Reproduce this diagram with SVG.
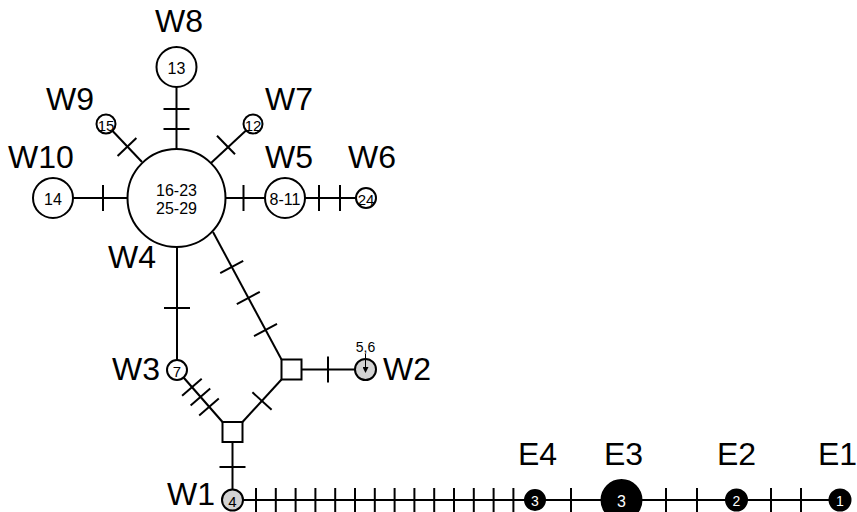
<svg xmlns="http://www.w3.org/2000/svg" width="857" height="512" viewBox="0 0 857 512">
<defs>
<style>
.e{stroke:#000;stroke-width:2;fill:none}
.t{stroke:#000;stroke-width:2}
.n{fill:#fff;stroke:#000;stroke-width:2}
.g{fill:#d3d3d3;stroke:#000;stroke-width:2}
.b{fill:#000;stroke:#000;stroke-width:2}
.lab{font-family:"Liberation Sans",Arial,sans-serif;font-size:32px;fill:#000}
.num{font-family:"Liberation Sans",Arial,sans-serif;fill:#000;text-anchor:middle;dominant-baseline:central}
.wn{font-family:"Liberation Sans",Arial,sans-serif;fill:#fff;text-anchor:middle;dominant-baseline:central}
</style>
<marker id="ah" markerWidth="6" markerHeight="6" refX="5" refY="3" orient="auto" markerUnits="userSpaceOnUse">
<path d="M0,0 L6,3 L0,6 z" fill="#000"/>
</marker>
</defs>
<rect width="857" height="512" fill="#fff"/>
<g id="connectors">
<line class="e" x1="176.5" y1="87" x2="176.5" y2="149"/>
<line class="t" x1="163.5" y1="109" x2="189.5" y2="109"/>
<line class="t" x1="163.5" y1="129" x2="189.5" y2="129"/>
<line class="e" x1="106" y1="124" x2="142" y2="162"/>
<line class="t" x1="117.6" y1="156" x2="136.4" y2="138"/>
<line class="e" x1="253" y1="124" x2="211" y2="163"/>
<line class="t" x1="217" y1="135.7" x2="235" y2="154.3"/>
<line class="e" x1="53" y1="198" x2="127" y2="198"/>
<line class="t" x1="103" y1="185" x2="103" y2="211"/>
<line class="e" x1="226" y1="198" x2="265" y2="198"/>
<line class="t" x1="243.5" y1="185" x2="243.5" y2="211"/>
<line class="e" x1="305" y1="198" x2="356" y2="198"/>
<line class="t" x1="319" y1="185" x2="319" y2="211"/>
<line class="t" x1="340" y1="185" x2="340" y2="211"/>
<line class="e" x1="177" y1="247" x2="177" y2="360"/>
<line class="t" x1="164" y1="308" x2="190" y2="308"/>
<line class="e" x1="213" y1="232" x2="281.5" y2="359.5"/>
<line class="t" x1="220.2" y1="273.1" x2="243.2" y2="260.9"/>
<line class="t" x1="236.8" y1="304.1" x2="259.8" y2="291.9"/>
<line class="t" x1="254" y1="336.1" x2="277" y2="323.9"/>
<line class="e" x1="177" y1="370" x2="222.5" y2="422"/>
<line class="t" x1="182.1" y1="395.7" x2="201.7" y2="378.7"/>
<line class="t" x1="190.6" y1="405.5" x2="210.2" y2="388.5"/>
<line class="t" x1="199.2" y1="415.4" x2="218.8" y2="398.4"/>
<line class="e" x1="242.5" y1="422" x2="281.5" y2="379.5"/>
<line class="t" x1="252.4" y1="392.3" x2="271.6" y2="409.7"/>
<line class="e" x1="301.5" y1="369.5" x2="355" y2="369.5"/>
<line class="t" x1="328" y1="356.5" x2="328" y2="382.5"/>
<line class="e" x1="232.5" y1="442" x2="232.5" y2="489"/>
<line class="t" x1="219.5" y1="467" x2="245.5" y2="467"/>
<line class="e" x1="243" y1="500" x2="840" y2="500"/>
<g class="t">
<line x1="256" y1="488" x2="256" y2="512"/>
<line x1="275.8" y1="488" x2="275.8" y2="512"/>
<line x1="295.6" y1="488" x2="295.6" y2="512"/>
<line x1="315.4" y1="488" x2="315.4" y2="512"/>
<line x1="335.2" y1="488" x2="335.2" y2="512"/>
<line x1="355" y1="488" x2="355" y2="512"/>
<line x1="374.8" y1="488" x2="374.8" y2="512"/>
<line x1="394.6" y1="488" x2="394.6" y2="512"/>
<line x1="414.4" y1="488" x2="414.4" y2="512"/>
<line x1="434.2" y1="488" x2="434.2" y2="512"/>
<line x1="454" y1="488" x2="454" y2="512"/>
<line x1="473.8" y1="488" x2="473.8" y2="512"/>
<line x1="493.6" y1="488" x2="493.6" y2="512"/>
<line x1="513.4" y1="488" x2="513.4" y2="512"/>
<line x1="571" y1="488" x2="571" y2="512"/>
<line x1="666" y1="488" x2="666" y2="512"/>
<line x1="697" y1="488" x2="697" y2="512"/>
<line x1="771" y1="488" x2="771" y2="512"/>
<line x1="801" y1="488" x2="801" y2="512"/>
</g>
</g>
<g id="W4"><circle class="n" cx="176.5" cy="198" r="49"/><text class="num" x="176.5" y="190" font-size="16">16-23</text><text class="num" x="176.5" y="208" font-size="16">25-29</text><text class="lab" x="108" y="268">W4</text></g>
<g id="W8"><circle class="n" cx="176.5" cy="67" r="20"/><text class="num" x="176.5" y="68" font-size="16">13</text><text class="lab" x="155" y="32">W8</text></g>
<g id="W9"><circle class="n" cx="106" cy="124" r="9.5"/><text class="num" x="106" y="125" font-size="15">15</text><text class="lab" x="46" y="110">W9</text></g>
<g id="W7"><circle class="n" cx="253" cy="124" r="9.5"/><text class="num" x="253" y="125" font-size="15">12</text><text class="lab" x="265" y="110">W7</text></g>
<g id="W10"><circle class="n" cx="53" cy="198" r="20"/><text class="num" x="53" y="199" font-size="16">14</text><text class="lab" x="8" y="168">W10</text></g>
<g id="W5"><circle class="n" cx="285" cy="198" r="20"/><text class="num" x="285" y="199" font-size="16">8-11</text><text class="lab" x="265" y="168">W5</text></g>
<g id="W6"><circle class="n" cx="366" cy="198" r="10"/><text class="num" x="366" y="199" font-size="15">24</text><text class="lab" x="348" y="168">W6</text></g>
<g id="W3"><circle class="n" cx="177" cy="370" r="10"/><text class="num" x="177" y="371" font-size="15">7</text><text class="lab" x="112" y="380">W3</text></g>
<g id="mv1"><rect class="n" x="281.5" y="359.5" width="20" height="20"/></g>
<g id="mv2"><rect class="n" x="222.5" y="422" width="20" height="20"/></g>
<g id="W2"><circle class="g" cx="365.5" cy="369.5" r="10.5"/><text class="num" x="365.5" y="346.5" font-size="14">5,6</text><line x1="365.5" y1="354" x2="365.5" y2="372" stroke="#000" stroke-width="1" marker-end="url(#ah)"/><text class="lab" x="383" y="380">W2</text></g>
<g id="W1"><circle class="g" cx="232.5" cy="500" r="10.5"/><text class="num" x="232.5" y="501" font-size="15">4</text><text class="lab" x="167" y="505">W1</text></g>
<g id="E4"><circle class="b" cx="535" cy="500" r="10"/><text class="wn" x="535" y="501" font-size="14">3</text><text class="lab" x="518" y="465">E4</text></g>
<g id="E3"><circle class="b" cx="621.5" cy="500" r="20"/><text class="wn" x="621.5" y="501" font-size="16">3</text><text class="lab" x="604" y="465">E3</text></g>
<g id="E2"><circle class="b" cx="736.5" cy="500" r="10.5"/><text class="wn" x="736.5" y="501" font-size="14">2</text><text class="lab" x="717" y="465">E2</text></g>
<g id="E1"><circle class="b" cx="840" cy="500" r="10.5"/><text class="wn" x="840" y="501" font-size="14">1</text><text class="lab" x="818" y="465">E1</text></g>
</svg>
